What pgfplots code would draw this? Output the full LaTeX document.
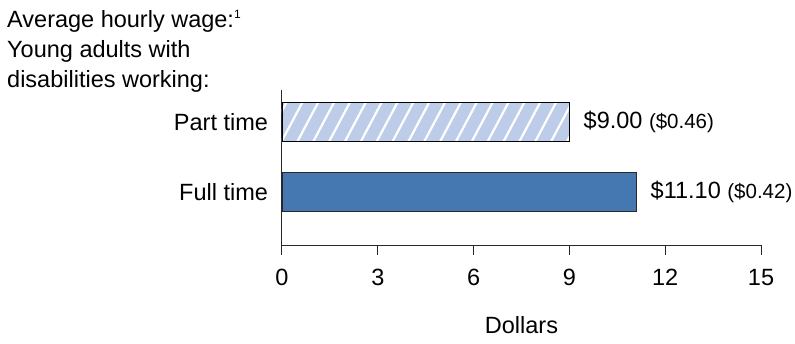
\documentclass[border=0pt]{standalone}
\usepackage{fontspec}
\setmainfont{Liberation Sans}
\usepackage{pgfplots}
\pgfplotsset{compat=1.18}
\usetikzlibrary{patterns.meta}
\definecolor{lightbar}{RGB}{189,204,233}
\definecolor{darkbar}{RGB}{69,119,176}
\definecolor{axisgray}{RGB}{40,40,40}
\begin{document}
\fontsize{23.5}{30}\selectfont
\begin{tikzpicture}[x=1pt,y=1pt]
\useasboundingbox (-282,-98) rectangle (513,245);
\begin{axis}[
  at={(0,0)}, anchor=south west,
  scale only axis, width=479pt, height=155pt,
  xmin=0, xmax=15, ymin=-0.757, ymax=1.457,
  axis x line=bottom, axis y line=left,
  axis line style={-, axisgray, line width=1pt},
  xtick={0,3,...,15}, ytick={0,1}, yticklabels={Full time, Part time},
  ytick style={draw=none},
  xtick style={axisgray, line width=1pt},
  tick align=outside, major tick length=10pt,
  ticklabel style={font=\fontsize{23.5}{28}\selectfont},
  x tick label style={yshift=-6pt},
  y tick label style={xshift=4pt},
  /pgf/number format/assume math mode=true,
  xlabel={Dollars},
  xlabel style={at={(axis description cs:0.5,0)}, anchor=center, yshift=-80pt, font=\fontsize{23.5}{28}\selectfont},
  clip=false,
]
\addplot[xbar, bar width=39pt, bar shift=0pt, fill=lightbar, draw=black, line width=0.9pt,
  postaction={pattern={Lines[angle=62, distance=14pt, line width=2.2pt]}, pattern color=white},
  nodes near coords={\$9.00 {\fontsize{20.5}{22}\selectfont(\$0.46)}},
  nodes near coords style={anchor=west, xshift=6pt, text=black, font=\fontsize{23.5}{28}\selectfont}]
  coordinates {(9.0,1)};
\addplot[xbar, bar width=39pt, bar shift=0pt, fill=darkbar, draw=axisgray, line width=0.9pt,
  nodes near coords={\$11.10 {\fontsize{20.5}{22}\selectfont(\$0.42)}},
  nodes near coords style={anchor=west, xshift=6pt, text=black, font=\fontsize{23.5}{28}\selectfont}]
  coordinates {(11.1,0)};
\end{axis}
\node[anchor=base west, inner sep=0pt] at (-275,217) {Average hourly wage:{\fontsize{12}{12}\selectfont\raisebox{0.75em}{1}}};
\node[anchor=base west, inner sep=0pt] at (-275,187) {Young adults with};
\node[anchor=base west, inner sep=0pt] at (-275,157) {disabilities working:};
\end{tikzpicture}
\end{document}
